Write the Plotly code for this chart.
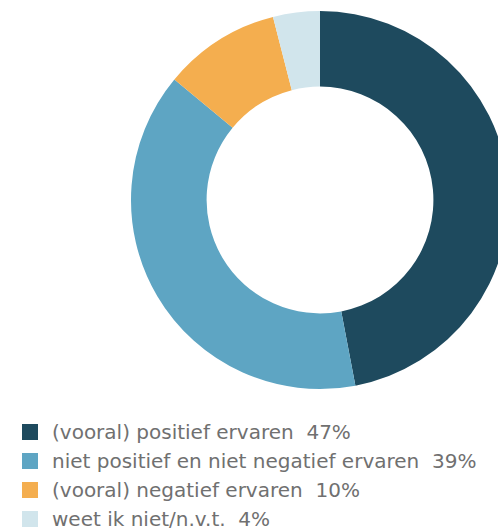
import plotly.graph_objects as go

labels = ["(vooral) positief ervaren", "niet positief en niet negatief ervaren",
          "(vooral) negatief ervaren", "weet ik niet/n.v.t."]
values = [47, 39, 10, 4]
colors = ["#1e4a5e", "#5ea5c3", "#f4ae4f", "#d1e5ec"]

W, H = 540, 528
cx, cy, r = 320, 200, 189

fig = go.Figure(go.Pie(
    labels=labels,
    values=values,
    marker=dict(colors=colors, line=dict(width=0)),
    hole=0.6,
    sort=False,
    direction="clockwise",
    rotation=0,
    textinfo="none",
    hoverinfo="label+percent",
    showlegend=False,
    domain=dict(x=[(cx - r) / W, (cx + r) / W],
                y=[(H - cy - r) / H, (H - cy + r) / H]),
))

# legend drawn as squares with labels underneath the donut
row0, step = 432, 29
shapes, annotations = [], []
for i, (lab, val, col) in enumerate(zip(labels, values, colors)):
    yc = row0 + i * step
    shapes.append(dict(type="rect", xref="paper", yref="paper",
                       x0=22 / W, x1=38 / W, y0=1 - (yc + 8) / H, y1=1 - (yc - 8) / H,
                       fillcolor=col, line=dict(width=0)))
    annotations.append(dict(x=50 / W, y=1 - yc / H, xref="paper", yref="paper",
                            xanchor="left", yanchor="middle", showarrow=False,
                            text=f"{lab}  {val}%",
                            font=dict(family="DejaVu Sans", size=20, color="#707070")))

fig.update_layout(
    width=W, height=H,
    margin=dict(l=0, r=0, t=0, b=0),
    paper_bgcolor="white", plot_bgcolor="white",
    shapes=shapes, annotations=annotations,
)

fig.write_html("out.html", post_script="document.body.style.overflow='hidden';")
